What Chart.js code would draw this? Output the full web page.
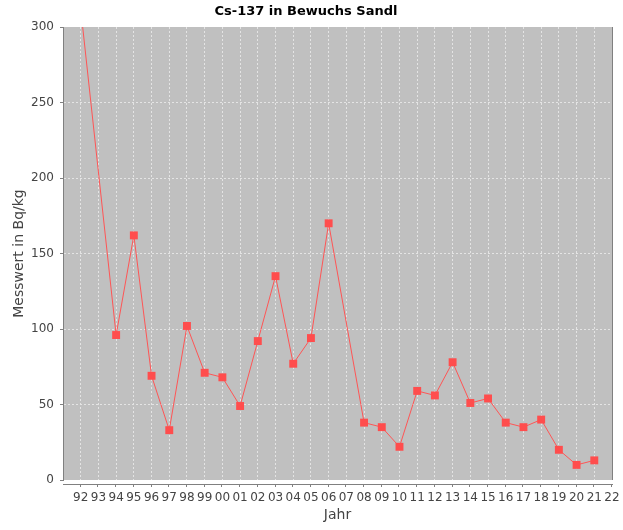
<!DOCTYPE html>
<html lang="de">
<head>
    <meta charset="UTF-8">
    <title>Cs-137 in Bewuchs Sandl</title>
    <style>
        html, body { margin: 0; padding: 0; background: #fff; }
        #wrap { width: 623px; height: 530px; }
    </style>
</head>
<body>
    <div id="wrap"><canvas id="chart" width="623" height="530"></canvas></div>

    <script src="https://cdn.jsdelivr.net/npm/chart.js"></script>
    <script>
        // Messjahre und Werte (Bq/kg); 1993, 2007 und 2022 ohne Messwert
        const years = [1992, 1994, 1995, 1996, 1997, 1998, 1999, 2000, 2001, 2002, 2003, 2004, 2005, 2006,
                       2008, 2009, 2010, 2011, 2012, 2013, 2014, 2015, 2016, 2017, 2018, 2019, 2020, 2021];
        const values = [312, 96, 162, 69, 33, 102, 71, 68, 49, 92, 135, 77, 94, 170,
                        38, 35, 22, 59, 56, 78, 51, 54, 38, 35, 40, 20, 10, 13];
        const xTicks = [1992, 1993, 1994, 1995, 1996, 1997, 1998, 1999, 2000, 2001, 2002, 2003, 2004, 2005, 2006,
                        2007, 2008, 2009, 2010, 2011, 2012, 2013, 2014, 2015, 2016, 2017, 2018, 2019, 2020, 2021, 2022];
        const yTicks = [0, 50, 100, 150, 200, 250, 300];

        const FONT = "'DejaVu Sans', sans-serif";
        const AXIS_GREY = '#808080';
        const GRID = '#e4e4e4';

        // plot background plus the offset x axis line, like the original
        const plotFrame = {
            id: 'plotFrame',
            beforeDraw(chart) {
                const { ctx, chartArea: a } = chart;
                ctx.save();
                ctx.fillStyle = '#c0c0c0';
                ctx.fillRect(a.left, a.top, a.right - a.left, a.bottom - a.top);
                ctx.restore();
            },
            afterDraw(chart) {
                const { ctx, chartArea: a } = chart;
                const x = chart.scales.x;
                const y0 = a.bottom + 4.5;
                ctx.save();
                ctx.strokeStyle = AXIS_GREY;
                ctx.lineWidth = 1;
                ctx.beginPath();
                ctx.moveTo(a.left, y0);
                ctx.lineTo(a.right + 1, y0);
                x.ticks.forEach(t => {
                    const px = Math.round(x.getPixelForValue(t.value)) - 0.5;
                    ctx.moveTo(px, y0);
                    ctx.lineTo(px, y0 + 2.5);
                });
                ctx.moveTo(a.right + 0.5, a.top);
                ctx.lineTo(a.right + 0.5, a.bottom);
                ctx.stroke();
                ctx.restore();
            }
        };

        new Chart(document.getElementById('chart'), {
            type: 'line',
            data: {
                datasets: [{
                    label: 'Cs-137',
                    data: years.map((yr, i) => ({ x: yr, y: values[i] })),
                    borderColor: '#ff5555',
                    backgroundColor: '#ff4d4d',
                    borderWidth: 1,
                    pointStyle: 'rect',
                    pointRadius: 5.6,
                    pointBorderWidth: 0,
                    pointHoverRadius: 5.6,
                    tension: 0,
                    clip: 0
                }]
            },
            options: {
                responsive: false,
                animation: false,
                layout: { padding: { left: 0, right: 11, top: 0, bottom: 0 } },
                plugins: {
                    legend: { display: false },
                    tooltip: { enabled: false },
                    title: {
                        display: true,
                        text: 'Cs-137 in Bewuchs Sandl',
                        color: '#000',
                        font: { family: FONT, size: 13, weight: 'bold' },
                        padding: { top: 4, bottom: 7.4 }
                    }
                },
                scales: {
                    x: {
                        type: 'linear',
                        min: 1991,
                        max: 2022,
                        afterBuildTicks: s => { s.ticks = xTicks.map(v => ({ value: v })); },
                        afterFit: s => { s.height = 50; s.paddingLeft = 0; s.paddingRight = 0; },
                        ticks: {
                            autoSkip: false,
                            maxRotation: 0,
                            padding: 11,
                            color: '#444',
                            font: { family: FONT, size: 12 },
                            callback: v => String(v % 100).padStart(2, '0')
                        },
                        grid: {
                            color: GRID,
                            drawTicks: false,
                            lineWidth: 1
                        },
                        border: { display: false, dash: [2, 2] },
                        title: {
                            display: true,
                            text: 'Jahr',
                            color: '#444',
                            font: { family: FONT, size: 14 },
                            padding: { top: 0, bottom: 6 }
                        }
                    },
                    y: {
                        min: 0,
                        max: 300,
                        afterBuildTicks: s => { s.ticks = yTicks.map(v => ({ value: v })); },
                        afterFit: s => { s.width = 63; s.paddingTop = 0; s.paddingBottom = 0; },
                        ticks: {
                            padding: 6,
                            color: '#444',
                            font: { family: FONT, size: 12 }
                        },
                        grid: {
                            color: ctx => (ctx.tick && (ctx.tick.value === 0 || ctx.tick.value === 300)) ? 'rgba(0,0,0,0)' : GRID,
                            tickColor: AXIS_GREY,
                            tickBorderDash: [],
                            tickLength: 3,
                            lineWidth: 1
                        },
                        border: { display: true, color: AXIS_GREY, width: 1, dash: [2, 2] },
                        title: {
                            display: true,
                            text: 'Messwert in Bq/kg',
                            color: '#444',
                            font: { family: FONT, size: 14 },
                            padding: { top: 11, bottom: 0 }
                        }
                    }
                }
            },
            plugins: [plotFrame]
        });
    </script>
</body>
</html>
